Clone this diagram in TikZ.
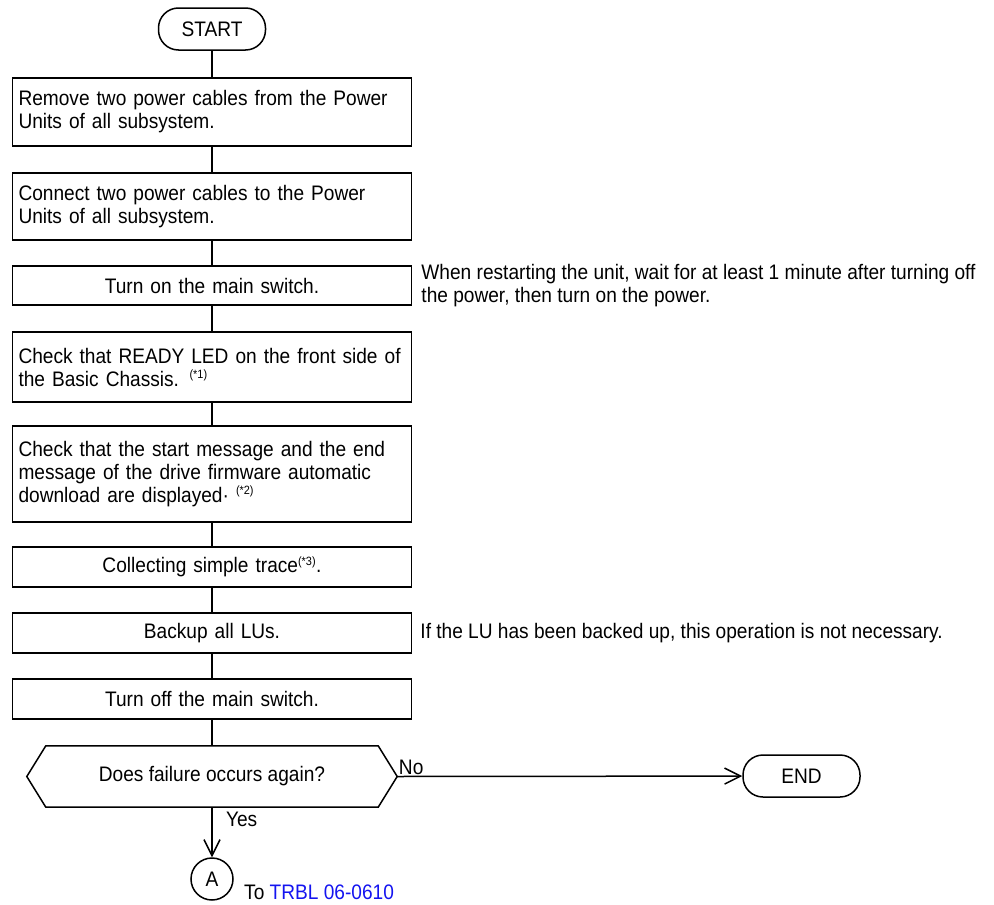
\documentclass[tikz,border=0pt]{standalone}
\usepackage{fontspec}
\setmainfont{Liberation Sans}[FakeStretch=0.91]
\usetikzlibrary{arrows.meta,positioning,calc}
\definecolor{linkblue}{RGB}{20,20,240}
\newcommand{\fnote}[1]{\textsuperscript{\fontsize{12}{12}\selectfont(*#1)}}

\begin{document}
\begin{tikzpicture}[x=1pt, y=-1pt,
    every node/.style={font=\fontsize{21}{23}\selectfont},
    terminal/.style={draw, line width=1.5pt, rounded corners=20pt, minimum height=42pt},
    stepbox/.style={draw, line width=1.5pt, text width=387pt, inner xsep=6pt, align=left},
    midbox/.style={stepbox, align=center},
    flowline/.style={line width=1.5pt},
    flowarrow/.style={line width=1.5pt, -{Straight Barb[length=16pt, width=16pt]}},
    remark/.style={inner sep=0pt, align=left}]
    \useasboundingbox (0,0) rectangle (994,905);

    % Start and the steps
    \node[terminal, minimum width=107pt] (start) at (212,29) {START};
    \node[stepbox, minimum height=68pt] (s1) at (212,112)
      {Remove two power cables from the Power\\Units of all subsystem.};
    \node[stepbox, minimum height=67pt] (s2) at (212,206.5)
      {Connect two power cables to the Power\\Units of all subsystem.};
    \node[midbox, minimum height=39pt] (s3) at (212,285.5) {Turn on the main switch.};
    \node[stepbox, minimum height=70pt] (s4) at (212,367)
      {Check that READY LED on the front side of\\the Basic Chassis. \fnote{1}};
    \node[stepbox, minimum height=96pt] (s5) at (212,474)
      {Check that the start message and the end\\message of the drive firmware automatic\\download are displayed· \fnote{2}};
    \node[midbox, minimum height=40pt] (s6) at (212,567) {Collecting simple trace\fnote{3}.};
    \node[midbox, minimum height=40pt] (s7) at (212,633) {Backup all LUs.};
    \node[midbox, minimum height=40pt] (s8) at (212,699) {Turn off the main switch.};

    % Decision
    \node[minimum width=332pt, minimum height=61pt, inner sep=0pt] (ask) at (212,776.5)
      {Does failure occurs again?};
    \coordinate (askl) at ($(ask.west)+(-19,0)$);
    \coordinate (askr) at ($(ask.east)+(19,0)$);
    \draw[flowline] (ask.north west) -- (ask.north east) -- (askr) -- (ask.south east)
      -- (ask.south west) -- (askl) -- cycle;

    \node[terminal, minimum width=117pt] (finish) at (801.5,776) {END};
    \node[draw, circle, line width=1.5pt, minimum size=42pt, inner sep=0pt] (goA) at (212,879) {A};
    \node[anchor=west, inner sep=0pt] (toref) at (244,892) {To \textcolor{linkblue}{TRBL 06-0610}};

    % Remarks
    \node[remark, right=9pt of s3] (note1)
      {When restarting the unit, wait for at least 1 minute after turning off\\the power, then turn on the power.};
    \node[remark, right=8pt of s7] (note2)
      {If the LU has been backed up, this operation is not necessary.};

    % Connectors
    \foreach \a/\b in {start/s1, s1/s2, s2/s3, s3/s4, s4/s5, s5/s6, s6/s7, s7/s8, s8/ask}
      \draw[flowline] (\a) -- (\b);
    \draw[flowarrow] (ask) -- node[pos=0.25, right=10pt] (yes) {Yes} (goA);
    \draw[flowarrow] (askr) -- node[pos=0, above right, inner sep=1pt] (no) {No} (finish);
  \end{tikzpicture}
\end{document}
